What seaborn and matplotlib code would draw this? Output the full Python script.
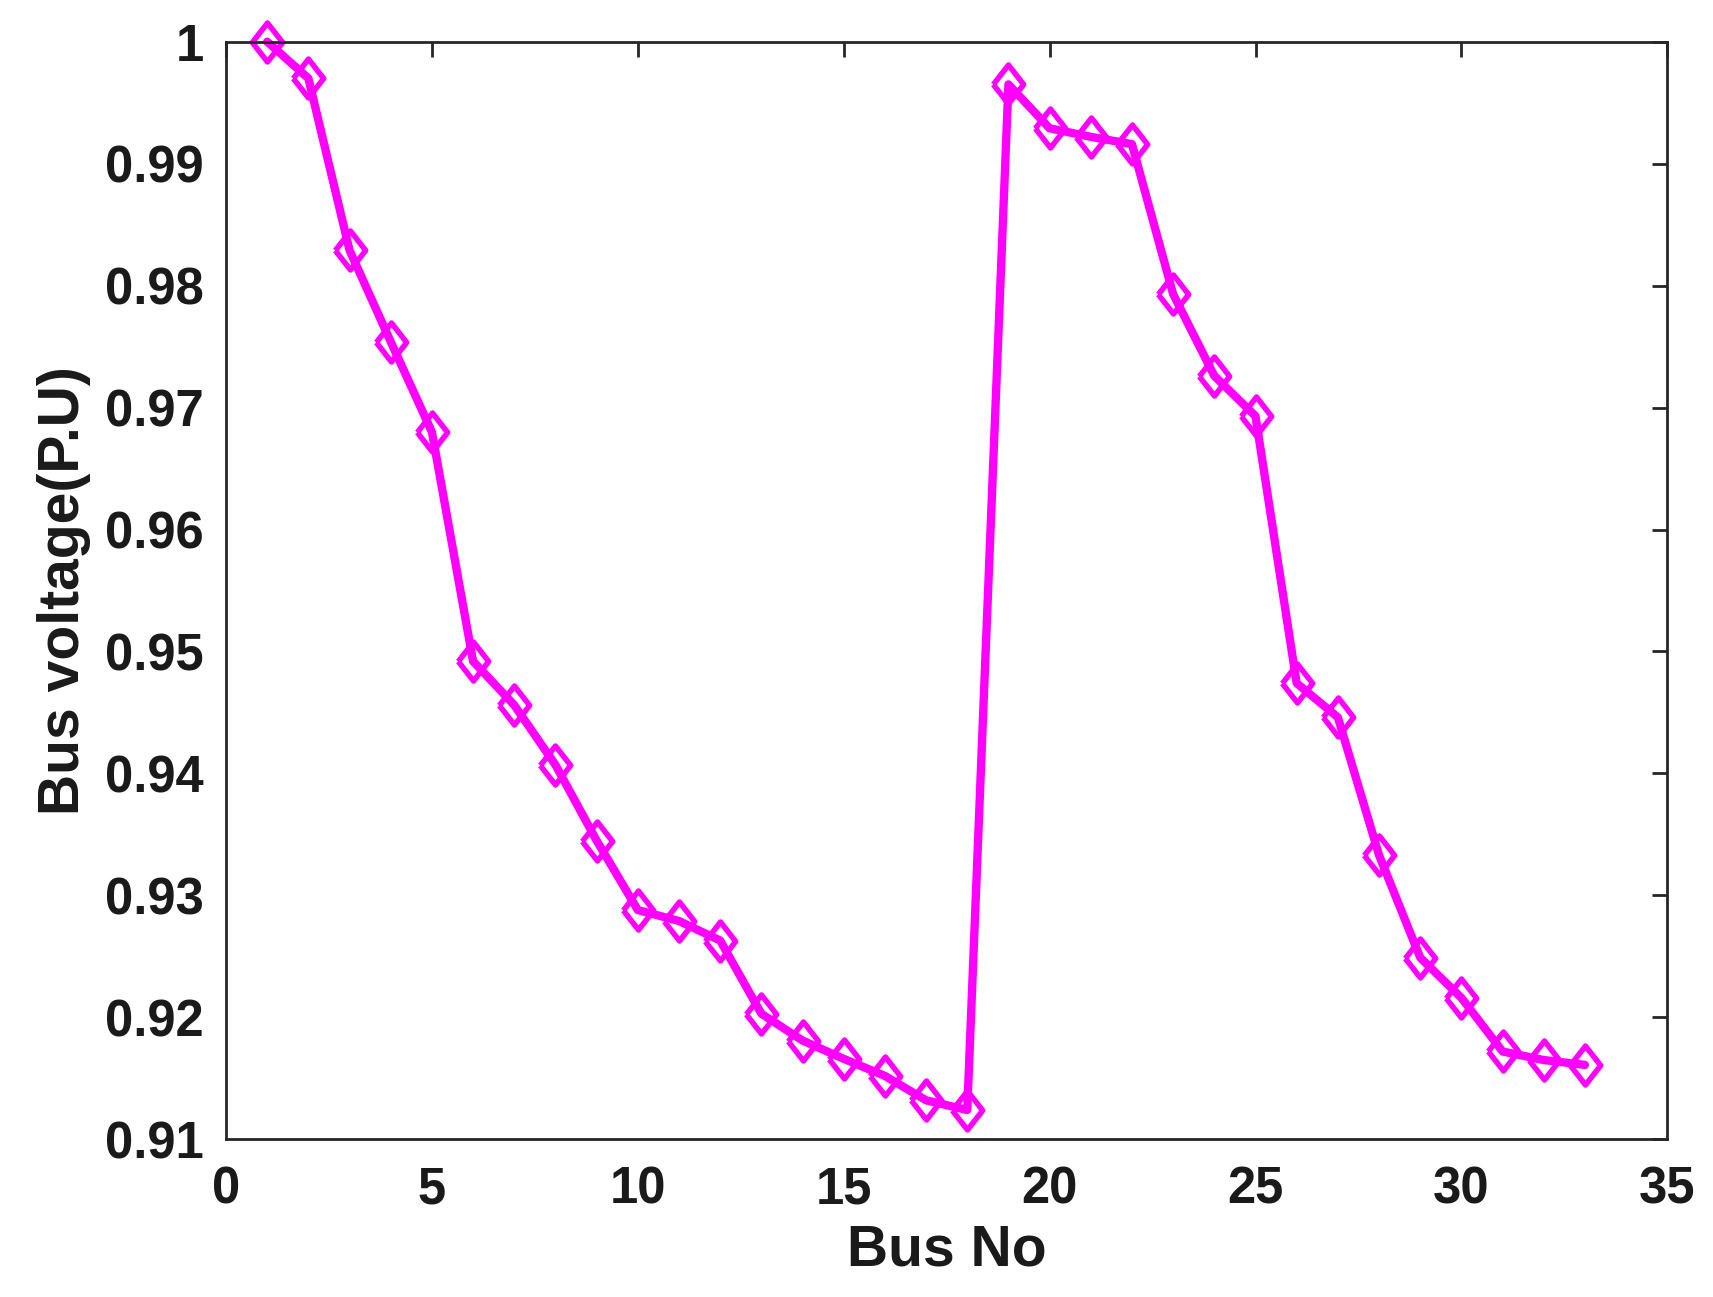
import matplotlib
matplotlib.use("Agg")
import matplotlib.pyplot as plt
import seaborn as sns
import pandas as pd

bus_no = list(range(1, 34))
voltage = [1.0000, 0.9970, 0.9829, 0.9754, 0.9680, 0.9492, 0.9456, 0.9407, 0.9345,
           0.9288, 0.9279, 0.9263, 0.9203, 0.9181, 0.9166, 0.9152, 0.9132, 0.9124,
           0.9965, 0.9929, 0.9922, 0.9916, 0.9793, 0.9726, 0.9693, 0.9474, 0.9446,
           0.9333, 0.9249, 0.9216, 0.9172, 0.9165, 0.9161]
x_ticks = [0, 5, 10, 15, 20, 25, 30, 35]
y_ticks = [0.91, 0.92, 0.93, 0.94, 0.95, 0.96, 0.97, 0.98, 0.99, 1.00]
y_tick_labels = ["0.91", "0.92", "0.93", "0.94", "0.95", "0.96", "0.97", "0.98", "0.99", "1"]

sns.set_style("white")
plt.rcParams['font.family'] = ['Liberation Sans', 'DejaVu Sans']
plt.rcParams['font.weight'] = 'bold'

df = pd.DataFrame({"Bus No": bus_no, "Voltage": voltage})

fig = plt.figure(figsize=(17.13, 12.97), dpi=100)
ax = fig.add_axes([226/1713, 1 - 1139.3/1297, (1667.3-226)/1713, (1139.3-41.7)/1297])

diamond = [(-0.39, 0.0), (0.0, 0.5), (0.39, 0.0), (0.0, -0.5), (-0.39, 0.0)]
sns.lineplot(data=df, x="Bus No", y="Voltage", ax=ax, color="#FF00FF", lw=6,
             marker=diamond, markersize=28, markerfacecolor="none",
             markeredgecolor="#FF00FF", markeredgewidth=4, clip_on=False)

ax.set_xlim(0, 35)
ax.set_ylim(0.91, 1.0)
ax.set_xticks(x_ticks)
ax.set_xticklabels([str(t) for t in x_ticks])
ax.set_yticks(y_ticks)
ax.set_yticklabels(y_tick_labels)

tc = "#262626"
for s in ax.spines.values():
    s.set_visible(True)
    s.set_color(tc)
    s.set_linewidth(2)
ax.tick_params(axis='both', direction='in', length=11, width=2, color=tc,
               labelsize=36.5, labelcolor="#1a1a1a", top=True, right=True, pad=16)
ax.tick_params(axis='x', pad=19)
for lab in ax.get_xticklabels() + ax.get_yticklabels():
    lab.set_fontweight('bold')

ax.set_xlabel("Bus No", fontsize=41, fontweight='bold', color="#1a1a1a", labelpad=6)
ax.set_ylabel("Bus voltage(P.U)", fontsize=41, fontweight='bold', color="#1a1a1a", labelpad=10)
ax.grid(False)

fig.savefig("out.png", dpi=100, facecolor="white")
